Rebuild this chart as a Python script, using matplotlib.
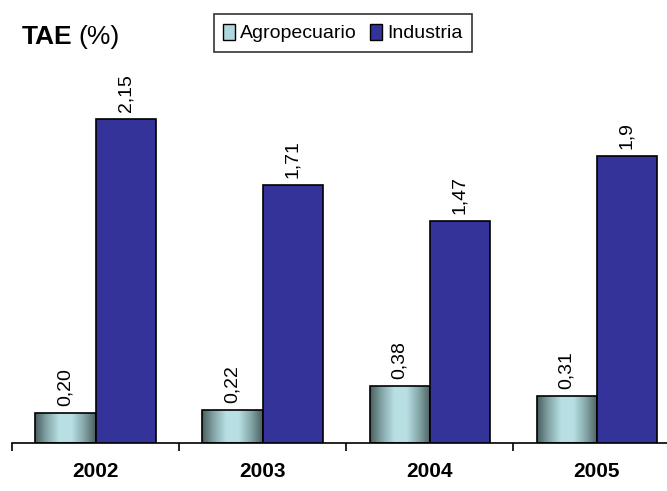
import numpy as np
import matplotlib.pyplot as plt
from matplotlib.colors import LinearSegmentedColormap
from matplotlib.patches import Patch

years = ['2002', '2003', '2004', '2005']
agro = [0.20, 0.22, 0.38, 0.31]
industria = [2.15, 1.71, 1.47, 1.90]
agro_labels = ['0,20', '0,22', '0,38', '0,31']
ind_labels = ['2,15', '1,71', '1,47', '1,9']

plt.rcParams['font.family'] = ['Liberation Sans', 'DejaVu Sans']

fig = plt.figure(figsize=(6.67, 4.91), dpi=100)
ax = fig.add_axes([0.018, 0.0978, 0.982, 0.78])

x = np.arange(len(years))
w = 0.36

# agropecuario bars: cylinder-like shading, dark at the edges
grad = LinearSegmentedColormap.from_list(
    'agro', ['#4a5e5e', '#86a8aa', '#b8e0e4', '#b8e0e4', '#86a8aa', '#4a5e5e'])
g = np.linspace(0, 1, 256).reshape(1, -1)

bars_a = ax.bar(x - w / 2, agro, w, facecolor='none', edgecolor='black', linewidth=1.2, zorder=3)
for b in bars_a:
    x0, y0 = b.get_x(), b.get_y()
    im = ax.imshow(g, cmap=grad, aspect='auto', zorder=2,
                   extent=[x0, x0 + b.get_width(), y0, y0 + b.get_height()])
    im.set_clip_path(b)
bars_i = ax.bar(x + w / 2, industria, w, color='#333399', edgecolor='black', linewidth=1.2, zorder=3)

for xi, v, t in zip(x - w / 2, agro, agro_labels):
    ax.text(xi, v + 0.045, t, rotation=90, ha='center', va='bottom', fontsize=14)
for xi, v, t in zip(x + w / 2, industria, ind_labels):
    ax.text(xi, v + 0.045, t, rotation=90, ha='center', va='bottom', fontsize=14)

ax.set_xlim(-0.5, 3.42)
ax.set_ylim(0, 2.538)
for s in ['top', 'left', 'right']:
    ax.spines[s].set_visible(False)
ax.spines['bottom'].set_linewidth(1.2)
ax.set_yticks([])
ax.set_xticks([-0.5, 0.5, 1.5, 2.5])
ax.set_xticklabels([])
ax.tick_params(axis='x', length=6, width=1.2, direction='out')
for xi, yr in zip(x, years):
    ax.text(xi, -0.19, yr, ha='center', va='center', fontsize=15, fontweight='bold')

fig.text(0.033, 0.925, 'TAE', fontsize=19, fontweight='bold', va='center')
fig.text(0.118, 0.925, '(%)', fontsize=19, va='center')

handles = [Patch(facecolor='#b0d8dc', edgecolor='black', label='Agropecuario'),
           Patch(facecolor='#333399', edgecolor='black', label='Industria')]
leg = fig.legend(handles=handles, loc='center', bbox_to_anchor=(0.514, 0.933), ncol=2,
                 fontsize=14, handlelength=0.6, handleheight=0.9, handletextpad=0.25,
                 columnspacing=0.7, borderpad=0.5, borderaxespad=0, frameon=True, fancybox=False)
leg.get_frame().set_edgecolor('black')
leg.get_frame().set_linewidth(1.2)

fig.savefig('out.png', dpi=100)
